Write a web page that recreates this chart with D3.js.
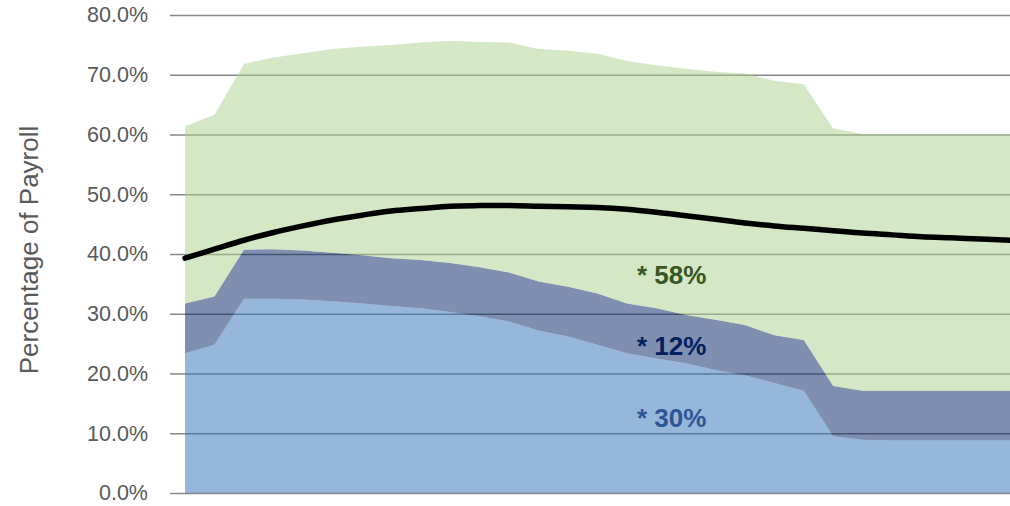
<!DOCTYPE html>
<html>
<head>
<meta charset="utf-8">
<script src="https://cdn.jsdelivr.net/npm/d3@7"></script>
<style>
  html, body { margin: 0; padding: 0; background: #ffffff; }
  svg { display: block; font-family: "Liberation Sans", Arial, sans-serif; }
</style>
</head>
<body>
<svg id="chart" width="1010" height="506"></svg>
<script>
// Yearly contribution components, % of payroll (stacked bottom to top)
const years = d3.range(0, 29);
const baseShare = [23.4, 24.8, 32.5, 32.5, 32.4, 32.1, 31.7, 31.3, 30.9, 30.3, 29.6, 28.7, 27.2, 26.2,
                   24.8, 23.4, 22.5, 21.7, 20.6, 19.7, 18.4, 17.1, 9.5, 8.9, 8.8, 8.8, 8.8, 8.8, 8.8];
const middleShare = [8.3, 8.1, 8.2, 8.3, 8.2, 8.1, 8.1, 8.0, 8.1, 8.2, 8.2, 8.2, 8.2, 8.3,
                     8.6, 8.3, 8.4, 8.1, 8.4, 8.4, 8.0, 8.5, 8.4, 8.2, 8.3, 8.3, 8.3, 8.3, 8.3];
const upperShare = [29.7, 30.4, 31.1, 32.1, 33.0, 34.1, 34.9, 35.7, 36.4, 37.2, 37.7, 38.5, 38.9, 39.5,
                    40.1, 40.6, 40.7, 41.2, 41.5, 42.1, 42.6, 42.8, 43.1, 43.0, 42.9, 42.9, 42.9, 42.9, 42.9];
// Overall rate line
const totalRate = [39.3, 40.8, 42.3, 43.6, 44.7, 45.7, 46.5, 47.2, 47.6, 48.0, 48.1, 48.1, 48.0, 47.9,
                   47.8, 47.5, 47.0, 46.4, 45.8, 45.2, 44.7, 44.3, 43.9, 43.5, 43.2, 42.9, 42.7, 42.5, 42.3];
const yTicks = [0, 10, 20, 30, 40, 50, 60, 70, 80];
const seriesKeys = ["base", "middle", "upper"];
const seriesColors = { base: "#2e6fb4", middle: "#002060", upper: "#a9d18e" };
const bandLabels = [
  { text: "* 30%", key: "base", color: "#2f5597" },
  { text: "* 12%", key: "middle", color: "#002060" },
  { text: "* 58%", key: "upper", color: "#375623" }
];
const labelYear = 15;

const rows = years.map((yr, i) => ({ year: yr, base: baseShare[i], middle: middleShare[i], upper: upperShare[i] }));

const svg = d3.select("#chart");
const gridLeft = 170, plotLeft = 185, plotRight = 1010, plotTop = 15, plotBottom = 493;

const x = d3.scaleLinear().domain([0, years.length - 1]).range([plotLeft, plotRight]);
const y = d3.scaleLinear().domain([0, 80]).range([plotBottom, plotTop]);

// Gridlines and tick labels
const yAxis = d3.axisLeft(y)
  .tickValues(yTicks)
  .tickSize(-(plotRight - gridLeft))
  .tickPadding(22)
  .tickFormat(d => d3.format(".1f")(d) + "%");

const axisG = svg.append("g")
  .attr("transform", `translate(${gridLeft},0)`)
  .call(yAxis);
axisG.select(".domain").remove();
axisG.selectAll(".tick line")
  .attr("stroke", "#878787")
  .attr("stroke-width", 1.6);
axisG.selectAll(".tick text")
  .attr("fill", "#595959")
  .style("font-size", "21.5px")
  .attr("x", -22);

// Stacked areas, semi-transparent over the gridlines
const stacked = d3.stack().keys(seriesKeys)(rows);
const area = d3.area()
  .x(d => x(d.data.year))
  .y0(d => y(d[0]))
  .y1(d => y(d[1]));

svg.append("g")
  .selectAll("path")
  .data(stacked)
  .join("path")
  .attr("d", area)
  .attr("fill", d => seriesColors[d.key])
  .attr("fill-opacity", 0.5);

// Overall rate line
const line = d3.line()
  .x((d, i) => x(years[i]))
  .y(d => y(d))
  .curve(d3.curveCatmullRom.alpha(0.5));

svg.append("path")
  .datum(totalRate)
  .attr("d", line)
  .attr("fill", "none")
  .attr("stroke", "#000000")
  .attr("stroke-width", 5.5)
  .attr("stroke-linecap", "round");

// Band share labels
const labelBaselines = { base: 427, middle: 355, upper: 284 };
svg.append("g")
  .selectAll("text")
  .data(bandLabels)
  .join("text")
  .attr("x", x(labelYear) + 10)
  .attr("y", d => labelBaselines[d.key])
  .attr("fill", d => d.color)
  .attr("font-size", "26px")
  .attr("font-weight", "bold")
  .text(d => d.text);

// Axis title
svg.append("text")
  .attr("transform", "translate(38,250) rotate(-90)")
  .attr("text-anchor", "middle")
  .attr("fill", "#595959")
  .attr("font-size", "26px")
  .text("Percentage of Payroll");
</script>
</body>
</html>
